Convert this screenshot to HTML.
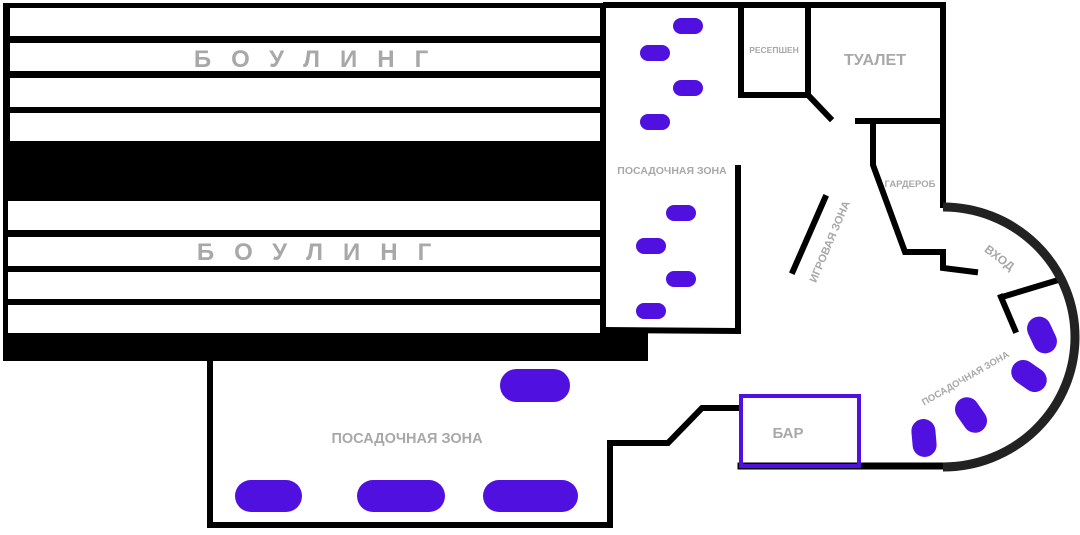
<!DOCTYPE html>
<html><head><meta charset="utf-8"><style>
html,body{margin:0;padding:0;background:#fff;width:1080px;height:535px;overflow:hidden}
text{font-family:"Liberation Sans","DejaVu Sans",sans-serif;font-weight:bold;fill:#a8a8a8}
</style></head><body>
<svg width="1080" height="535" viewBox="0 0 1080 535" xmlns="http://www.w3.org/2000/svg">
<rect x="3" y="3" width="603" height="358" fill="#000"/>
<rect x="606" y="333" width="42" height="28" fill="#000"/>
<g fill="#fff">
<rect x="10" y="8" width="590" height="28"/>
<rect x="10" y="43" width="590" height="28"/>
<rect x="10" y="78" width="590" height="29"/>
<rect x="10" y="113" width="590" height="28"/>
<rect x="8" y="201" width="592" height="29"/>
<rect x="8" y="237" width="592" height="29"/>
<rect x="8" y="272" width="592" height="27"/>
<rect x="8" y="305" width="592" height="28"/>
</g>
<text x="321" y="67" font-size="24" text-anchor="middle" letter-spacing="20">БОУЛИНГ</text>
<text x="324" y="260" font-size="24" text-anchor="middle" letter-spacing="20">БОУЛИНГ</text>
<g stroke="#000" stroke-width="6" fill="none" stroke-linecap="square">
<polyline points="606,5 943,5 943,205"/>
<polyline points="603,330 738,331 738,168"/>
<polyline points="741,7 741,95 808,95 808,7"/>
<line x1="808" y1="95" x2="830" y2="118"/>
<polyline points="858,121 943,121"/>
<polyline points="873,121 873,165 905,252 943,252 943,268 975,272"/>
<line x1="825" y1="198" x2="793" y2="271"/>
<line x1="1055" y1="281" x2="1002" y2="297"/>
<line x1="1001" y1="297" x2="1015" y2="330"/>
<polyline points="738,408 702,408 668,443 610,443 610,525 210,525 210,361"/>
<line x1="741" y1="466" x2="943" y2="466" stroke-width="7"/>
</g>
<path d="M943,207 A132,130 0 0 1 943,467" fill="none" stroke="#222" stroke-width="9"/>
<rect x="741" y="396" width="118" height="70" fill="none" stroke="#5010e0" stroke-width="4"/>
<g fill="#5010e0">
<rect x="673" y="18" width="30" height="16" rx="8"/>
<rect x="640" y="45" width="30" height="16" rx="8"/>
<rect x="673" y="80" width="30" height="16" rx="8"/>
<rect x="640" y="114" width="30" height="16" rx="8"/>
<rect x="666" y="205" width="30" height="16" rx="8"/>
<rect x="636" y="238" width="30" height="16" rx="8"/>
<rect x="666" y="271" width="30" height="16" rx="8"/>
<rect x="636" y="303" width="30" height="16" rx="8"/>
<rect x="500" y="369" width="70" height="33" rx="16.5"/>
<rect x="235" y="480" width="67" height="32" rx="16"/>
<rect x="357" y="480" width="88" height="32" rx="16"/>
<rect x="483" y="480" width="95" height="32" rx="16"/>
<rect x="-12" y="-19" width="24" height="38" rx="12" transform="translate(1042,335) rotate(-25)"/>
<rect x="-12" y="-19" width="24" height="38" rx="12" transform="translate(1029,376) rotate(-55)"/>
<rect x="-12" y="-19" width="24" height="38" rx="12" transform="translate(971,415) rotate(-35)"/>
<rect x="-12" y="-19" width="24" height="38" rx="12" transform="translate(924,438) rotate(-5)"/>
</g>
<text x="672" y="174" font-size="10.5" text-anchor="middle">ПОСАДОЧНАЯ ЗОНА</text>
<text x="774" y="53" font-size="8.5" text-anchor="middle">РЕСЕПШЕН</text>
<text x="875" y="65" font-size="16" text-anchor="middle">ТУАЛЕТ</text>
<text x="910" y="187" font-size="9.5" text-anchor="middle">ГАРДЕРОБ</text>
<text font-size="11" text-anchor="middle" transform="translate(833,243) rotate(-67)">ИГРОВАЯ ЗОНА</text>
<text font-size="12" text-anchor="middle" transform="translate(997,261) rotate(37)">ВХОД</text>
<text font-size="9.5" text-anchor="middle" transform="translate(967,381) rotate(-30)">ПОСАДОЧНАЯ ЗОНА</text>
<text x="788" y="438" font-size="15" text-anchor="middle">БАР</text>
<text x="407" y="443" font-size="14.5" text-anchor="middle">ПОСАДОЧНАЯ ЗОНА</text>
</svg>
</body></html>
